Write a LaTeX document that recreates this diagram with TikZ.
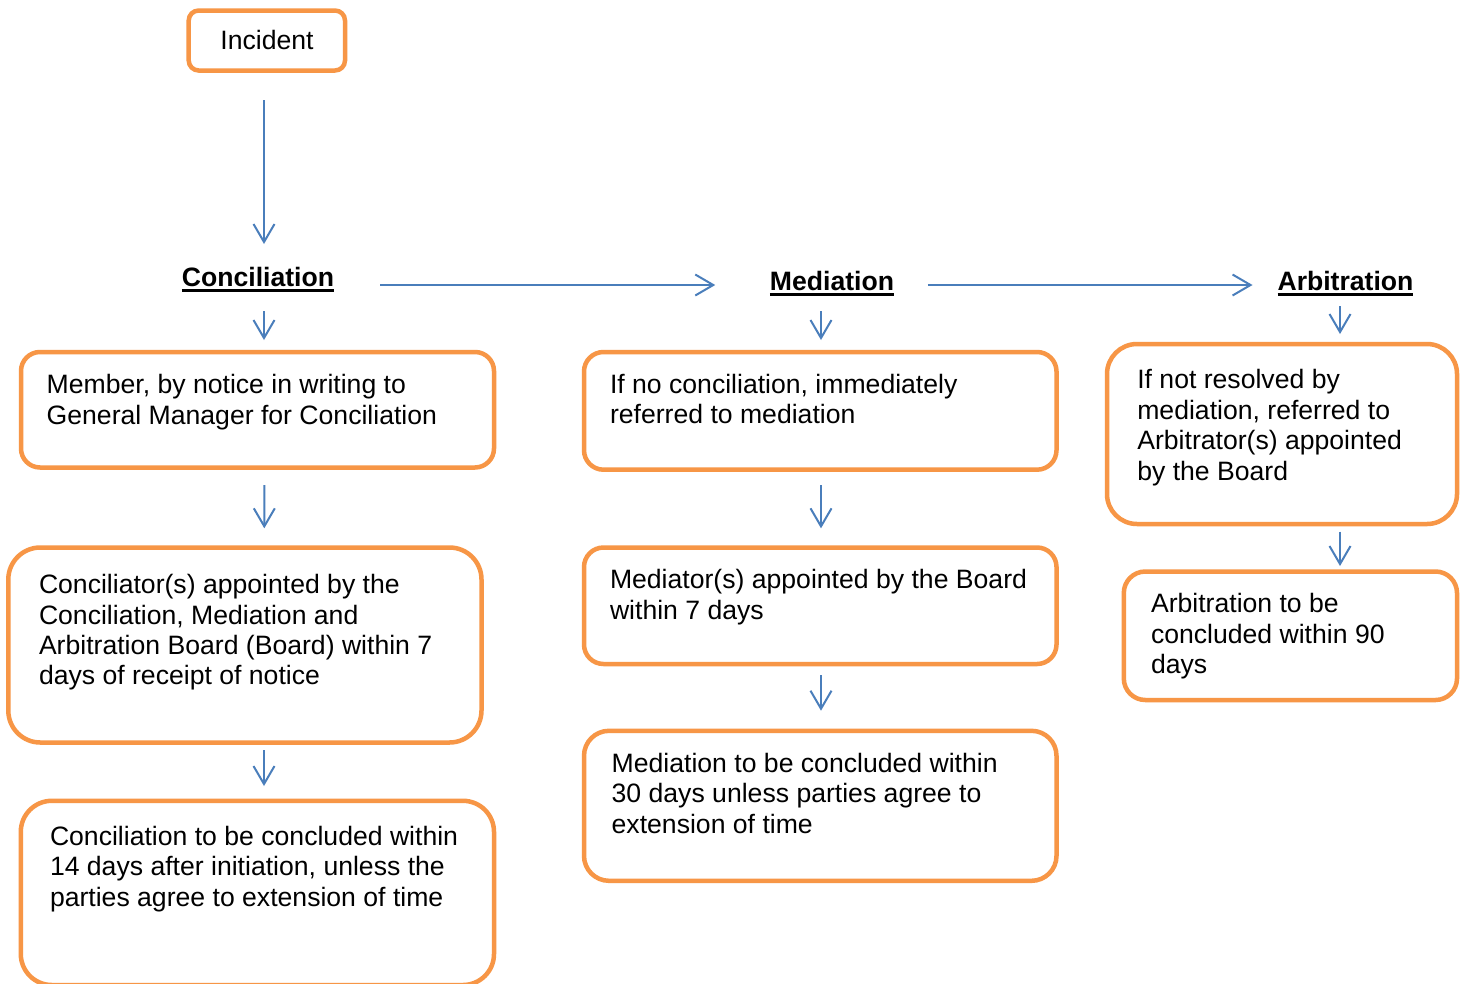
\documentclass[tikz,border=0pt]{standalone}
\usepackage{fontspec}
\setmainfont{Liberation Sans}
\usetikzlibrary{arrows.meta,calc}
\definecolor{orng}{HTML}{F79646}
\definecolor{blu}{HTML}{4A7EBB}
\newcommand\hdul[1]{\setbox0\hbox{#1}\rlap{\rule[-5.5pt]{\wd0}{2.8pt}}\box0}
\newcommand\fs{\rule{0pt}{20pt}}
\begin{document}
\begin{tikzpicture}[x=1pt,y=-1pt,
  box/.style={draw=orng, line width=4.5pt, rounded corners=#1, inner sep=0pt, outer sep=0pt, fill=white},
  txt/.style={font=\fontsize{26.6}{30.4}\selectfont, align=left, anchor=north west, inner sep=0pt, outer sep=0pt},
  lbl/.style={font=\fontsize{26.6}{30.4}\selectfont, anchor=base, inner sep=0pt, outer sep=0pt},
  hdr/.style={lbl, font=\fontsize{26.6}{30.4}\selectfont\bfseries},
  arr/.style={draw=blu, line width=2pt, -{Straight Barb[length=18pt,width=21pt]}}]
\path[use as bounding box, fill=white] (0,0) rectangle (1463,983);

% boxes
\node[box=10, minimum width=156.3, minimum height=60] (inc) at (266.85,40.5) {};
\node[box=19, minimum width=473, minimum height=115.5] (c1) at (257.5,409.75) {};
\node[box=32, minimum width=473.2, minimum height=195] (c2) at (244.9,645) {};
\node[box=31, minimum width=473.2, minimum height=184.2] (c3) at (257.4,892.9) {};
\node[box=19.5, minimum width=472.5, minimum height=117.7] (m1) at (820.25,410.85) {};
\node[box=19.5, minimum width=472.5, minimum height=116.5] (m2) at (820.25,605.75) {};
\node[box=25, minimum width=472.5, minimum height=150] (m3) at (820.25,805.8) {};
\node[box=30, minimum width=350, minimum height=180] (a1) at (1282,434) {};
\node[box=21.5, minimum width=333.2, minimum height=128.5] (a2) at (1290.4,635.75) {};

% texts
\node[lbl] (inctxt) at (267,49.3) {Incident};
\node[hdr] (conc) at (258,286) {\hdul{Conciliation}};
\node[hdr] (med) at (832,290.7) {\hdul{Mediation}};
\node[hdr] (arb) at (1345.5,290) {\hdul{Arbitration}};

\node[txt] (c1t) at (46.7,373.6) {\fs Member, by notice in writing to\\General Manager for Conciliation};
\node[txt] (c2t) at (39,573.6) {\fs Conciliator(s) appointed by the\\Conciliation, Mediation and\\Arbitration Board (Board) within 7\\days of receipt of notice};
\node[txt] (c3t) at (50,825.3) {\fs Conciliation to be concluded within\\14 days after initiation, unless the\\parties agree to extension of time};
\node[txt] (m1t) at (610,373.3) {\fs If no conciliation, immediately\\referred to mediation};
\node[txt] (m2t) at (610,568.8) {\fs Mediator(s) appointed by the Board\\within 7 days};
\node[txt] (m3t) at (611.7,752.3) {\fs Mediation to be concluded within\\30 days unless parties agree to\\extension of time};
\node[txt] (a1t) at (1137.3,368.8) {\fs If not resolved by\\mediation, referred to\\Arbitrator(s) appointed\\by the Board};
\node[txt] (a2t) at (1151,592.8) {\fs Arbitration to be\\concluded within 90\\days};

% connectors
\draw[arr] ($(inc.south)+(-2.85,29.5)$) -- ($(conc.base)+(6,-42)$);
\draw[arr] ($(conc.base east)+(46,-1)$) -- ($(med.base west)+(-54.7,-5.7)$);
\draw[arr] ($(med.base east)+(33.7,-5.7)$) -- ($(arb.base west)+(-25,-5)$);
\draw[arr] ($(conc.base)+(6,25)$) -- ($(c1.north)+(6.5,-12)$);
\draw[arr] ($(med.base)+(-11,20.3)$) -- ($(m1.north)+(0.75,-12)$);
\draw[arr] ($(arb.base)+(-5.5,16)$) -- ($(a1.north)+(58,-10)$);
\draw[arr] ($(c1.south)+(6.8,17.5)$) -- ($(c2.north)+(19.4,-19.2)$);
\draw[arr] ($(c2.south)+(19.1,7.5)$) -- ($(c3.north)+(6.6,-14.8)$);
\draw[arr] ($(m1.south)+(0.75,15.3)$) -- ($(m2.north)+(0.75,-19.2)$);
\draw[arr] ($(m2.south)+(0.75,11)$) -- ($(m3.north)+(0.75,-20.1)$);
\draw[arr] ($(a1.south)+(58,7.7)$) -- ($(a2.north)+(49.6,-5.5)$);
\end{tikzpicture}
\end{document}
